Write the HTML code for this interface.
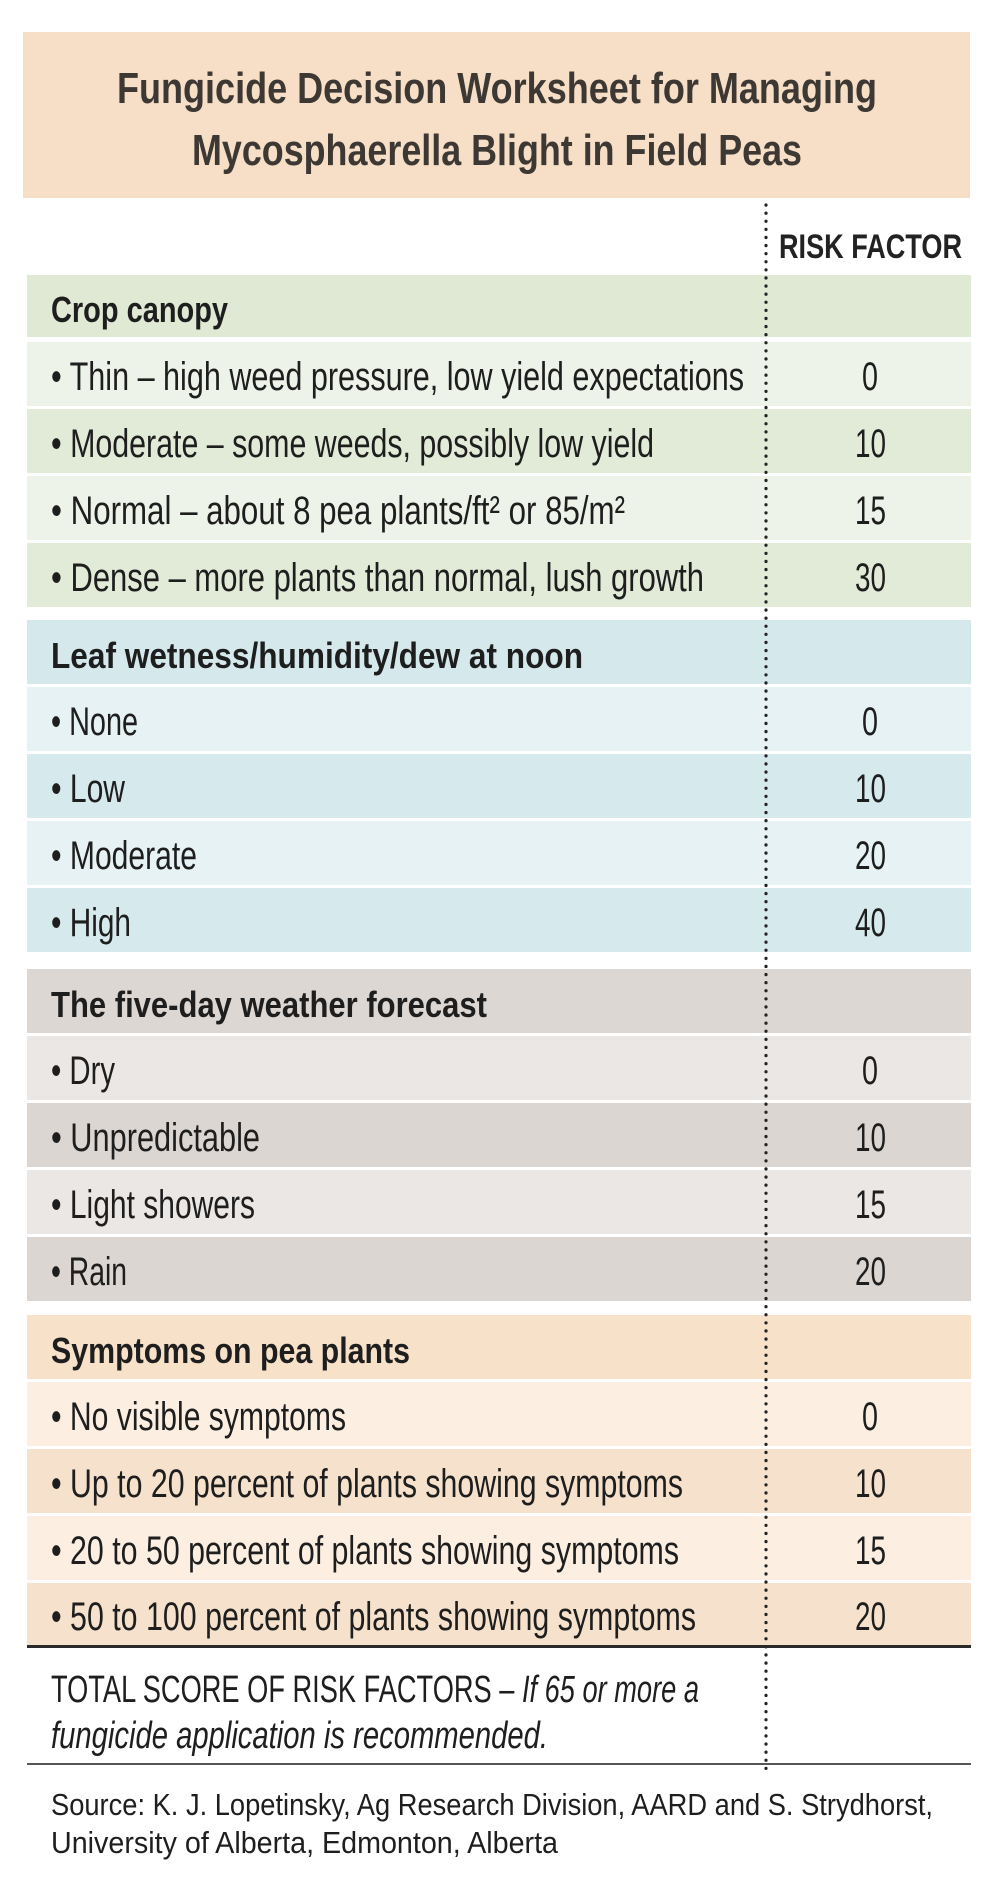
<!DOCTYPE html>
<html><head><meta charset="utf-8"><style>html,body{margin:0;padding:0;background:#fff}svg{display:block}</style></head>
<body>
<svg width="1000" height="1877" viewBox="0 0 1000 1877" xmlns="http://www.w3.org/2000/svg" font-family="'Liberation Sans Narrow','Liberation Sans',sans-serif">
<rect x="0" y="0" width="1000" height="1877" fill="#fff"/>
<rect x="23" y="32" width="947" height="166" fill="#f6dfc6"/>
<g font-weight="bold" font-size="44" fill="#3d3833" text-anchor="middle">
<text x="497" y="103" textLength="760" lengthAdjust="spacingAndGlyphs">Fungicide Decision Worksheet for Managing</text>
<text x="497" y="165" textLength="610" lengthAdjust="spacingAndGlyphs">Mycosphaerella Blight in Field Peas</text>
</g>
<text x="779" y="258" font-weight="bold" font-size="34" fill="#222" textLength="183" lengthAdjust="spacingAndGlyphs">RISK FACTOR</text>

<rect x="27" y="275" width="944" height="62" fill="#dfe9d4"/>
<rect x="27" y="342" width="944" height="64" fill="#eef3e9"/>
<rect x="27" y="409" width="944" height="64" fill="#e2ead8"/>
<rect x="27" y="476" width="944" height="64" fill="#eef3e9"/>
<rect x="27" y="543" width="944" height="64" fill="#e2ead8"/>
<rect x="27" y="620" width="944" height="64" fill="#d5e9ed"/>
<rect x="27" y="687" width="944" height="64" fill="#e6f2f3"/>
<rect x="27" y="754" width="944" height="64" fill="#d6eaee"/>
<rect x="27" y="821" width="944" height="64" fill="#e6f2f3"/>
<rect x="27" y="888" width="944" height="64" fill="#d6eaee"/>
<rect x="27" y="969" width="944" height="64" fill="#ddd7d3"/>
<rect x="27" y="1036" width="944" height="64" fill="#ebe7e4"/>
<rect x="27" y="1103" width="944" height="64" fill="#dcd6d2"/>
<rect x="27" y="1170" width="944" height="64" fill="#ebe7e4"/>
<rect x="27" y="1237" width="944" height="64" fill="#dcd6d2"/>
<rect x="27" y="1315" width="944" height="64" fill="#f7e1c9"/>
<rect x="27" y="1382" width="944" height="64" fill="#fcefe2"/>
<rect x="27" y="1449" width="944" height="64" fill="#f6e2cc"/>
<rect x="27" y="1516" width="944" height="64" fill="#fcefe2"/>
<rect x="27" y="1583" width="944" height="63" fill="#f6e2cc"/>

<line x1="766" y1="205" x2="766" y2="1776" stroke="#222" stroke-width="3.2" stroke-linecap="round" stroke-dasharray="0.1 8"/>

<rect x="27" y="1645" width="944" height="3" fill="#2a2a2a"/>
<rect x="27" y="1763" width="944" height="2" fill="#555"/>

<g font-weight="bold" font-size="36" fill="#1e1e1e">
<text x="51" y="322" textLength="177" lengthAdjust="spacingAndGlyphs">Crop canopy</text>
<text x="51" y="668" textLength="532" lengthAdjust="spacingAndGlyphs">Leaf wetness/humidity/dew at noon</text>
<text x="51" y="1017" textLength="436" lengthAdjust="spacingAndGlyphs">The five-day weather forecast</text>
<text x="51" y="1363" textLength="359" lengthAdjust="spacingAndGlyphs">Symptoms on pea plants</text>
</g>
<g font-size="40" fill="#1e1e1e">
<text x="51" y="390" textLength="693" lengthAdjust="spacingAndGlyphs">• Thin – high weed pressure, low yield expectations</text>
<text x="51" y="457" textLength="603" lengthAdjust="spacingAndGlyphs">• Moderate – some weeds, possibly low yield</text>
<text x="51" y="524" textLength="574" lengthAdjust="spacingAndGlyphs">• Normal – about 8 pea plants/ft² or 85/m²</text>
<text x="51" y="591" textLength="653" lengthAdjust="spacingAndGlyphs">• Dense  – more plants than normal, lush growth</text>
<text x="51" y="735" textLength="87" lengthAdjust="spacingAndGlyphs">• None</text>
<text x="51" y="802" textLength="74" lengthAdjust="spacingAndGlyphs">• Low</text>
<text x="51" y="869" textLength="146" lengthAdjust="spacingAndGlyphs">• Moderate</text>
<text x="51" y="936" textLength="80" lengthAdjust="spacingAndGlyphs">• High</text>
<text x="51" y="1084" textLength="64" lengthAdjust="spacingAndGlyphs">• Dry</text>
<text x="51" y="1151" textLength="209" lengthAdjust="spacingAndGlyphs">• Unpredictable</text>
<text x="51" y="1218" textLength="204" lengthAdjust="spacingAndGlyphs">• Light showers</text>
<text x="51" y="1285" textLength="76" lengthAdjust="spacingAndGlyphs">• Rain</text>
<text x="51" y="1430" textLength="295" lengthAdjust="spacingAndGlyphs">• No visible symptoms</text>
<text x="51" y="1497" textLength="632" lengthAdjust="spacingAndGlyphs">• Up to 20 percent of plants showing symptoms</text>
<text x="51" y="1564" textLength="628" lengthAdjust="spacingAndGlyphs">• 20 to 50 percent of plants showing symptoms</text>
<text x="51" y="1630" textLength="645" lengthAdjust="spacingAndGlyphs">• 50 to 100 percent of plants showing symptoms</text>
</g>
<g font-size="40" fill="#1e1e1e">
<text x="862" y="390" textLength="16" lengthAdjust="spacingAndGlyphs">0</text><text x="855" y="457" textLength="31" lengthAdjust="spacingAndGlyphs">10</text><text x="855" y="524" textLength="31" lengthAdjust="spacingAndGlyphs">15</text><text x="855" y="591" textLength="31" lengthAdjust="spacingAndGlyphs">30</text>
<text x="862" y="735" textLength="16" lengthAdjust="spacingAndGlyphs">0</text><text x="855" y="802" textLength="31" lengthAdjust="spacingAndGlyphs">10</text><text x="855" y="869" textLength="31" lengthAdjust="spacingAndGlyphs">20</text><text x="855" y="936" textLength="31" lengthAdjust="spacingAndGlyphs">40</text>
<text x="862" y="1084" textLength="16" lengthAdjust="spacingAndGlyphs">0</text><text x="855" y="1151" textLength="31" lengthAdjust="spacingAndGlyphs">10</text><text x="855" y="1218" textLength="31" lengthAdjust="spacingAndGlyphs">15</text><text x="855" y="1285" textLength="31" lengthAdjust="spacingAndGlyphs">20</text>
<text x="862" y="1430" textLength="16" lengthAdjust="spacingAndGlyphs">0</text><text x="855" y="1497" textLength="31" lengthAdjust="spacingAndGlyphs">10</text><text x="855" y="1564" textLength="31" lengthAdjust="spacingAndGlyphs">15</text><text x="855" y="1630" textLength="31" lengthAdjust="spacingAndGlyphs">20</text>
</g>
<g font-size="38" fill="#1e1e1e">
<text x="51" y="1702" textLength="648" lengthAdjust="spacingAndGlyphs">TOTAL SCORE OF RISK FACTORS – <tspan font-style="italic">If 65 or more a</tspan></text>
<text x="51" y="1748" font-style="italic" textLength="497" lengthAdjust="spacingAndGlyphs">fungicide application is recommended.</text>
</g>
<g font-size="31" fill="#1e1e1e">
<text x="51" y="1815" textLength="882" lengthAdjust="spacingAndGlyphs">Source: K. J. Lopetinsky, Ag Research Division, AARD and S. Strydhorst,</text>
<text x="51" y="1853" textLength="507" lengthAdjust="spacingAndGlyphs">University of Alberta, Edmonton, Alberta</text>
</g>
</svg>
</body></html>
